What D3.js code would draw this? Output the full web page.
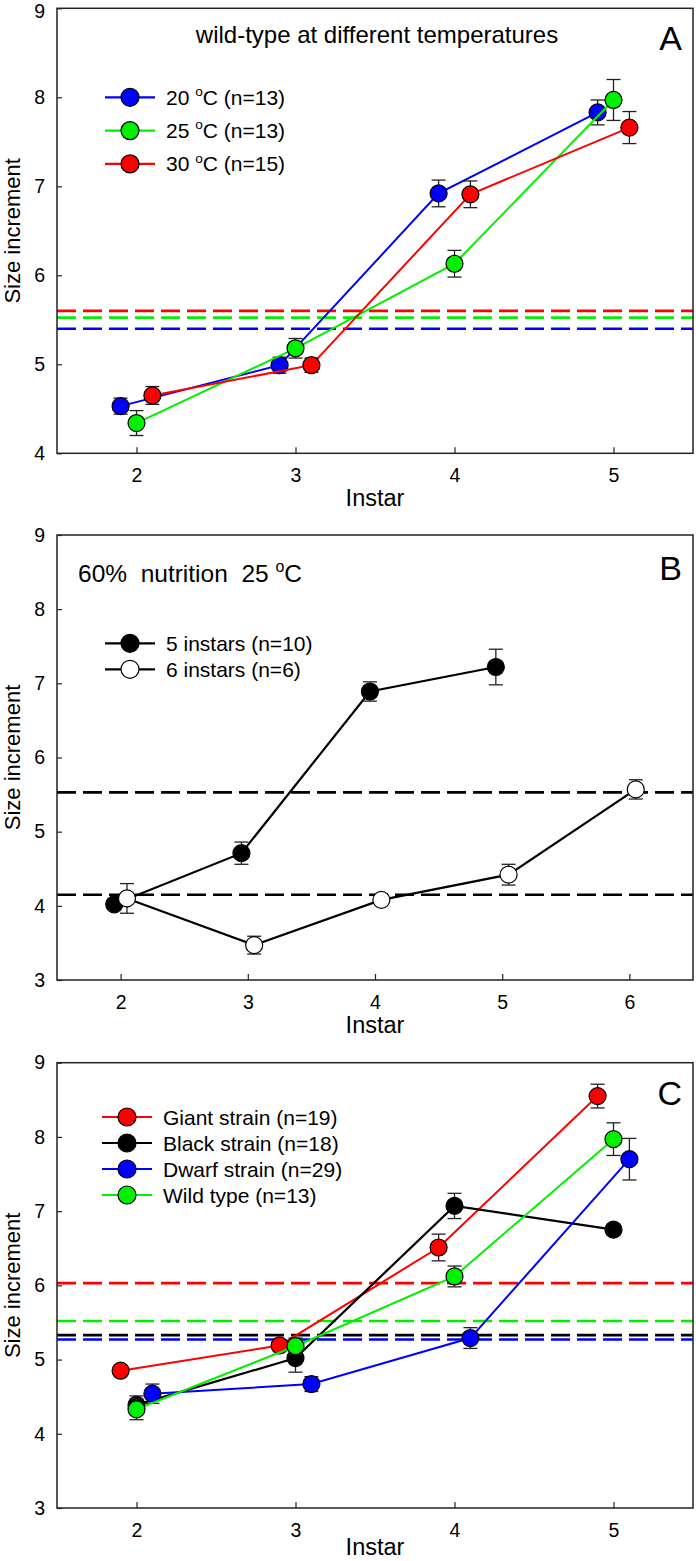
<!DOCTYPE html>
<html><head><meta charset="utf-8">
<script src="https://cdn.jsdelivr.net/npm/d3@7"></script>
<style>
body{margin:0;background:#fff}
text{font-family:"Liberation Sans", Arial, sans-serif;fill:#000}
</style>
</head><body>
<svg id="chart" width="696" height="1561"></svg>
<script>
// ---------- Panel A data ----------
const aXTicks = [2, 3, 4, 5];
const aYTicks = [4, 5, 6, 7, 8, 9];
const a20X = [1.9, 2.9, 3.9, 4.9];
const a20Y = [4.53, 4.99, 6.92, 7.83];
const a20E = [0.09, 0.09, 0.15, 0.14];
const a25X = [2.0, 3.0, 4.0, 5.0];
const a25Y = [4.34, 5.18, 6.13, 7.97];
const a25E = [0.14, 0.11, 0.15, 0.23];
const a30X = [2.1, 3.1, 4.1, 5.1];
const a30Y = [4.65, 4.99, 6.91, 7.66];
const a30E = [0.10, 0.08, 0.15, 0.18];
const aRefs = [5.40, 5.525, 5.60];
const aLegend = ["20", "25", "30"];
const aLegendN = ["(n=13)", "(n=13)", "(n=15)"];

// ---------- Panel B data ----------
const bXTicks = [2, 3, 4, 5, 6];
const bYTicks = [3, 4, 5, 6, 7, 8, 9];
const b5X = [1.95, 2.95, 3.96, 4.95];
const b5Y = [4.02, 4.71, 6.89, 7.22];
const b5E = [0.07, 0.15, 0.13, 0.24];
const b6X = [2.05, 3.05, 4.05, 5.05, 6.05];
const b6Y = [4.10, 3.47, 4.08, 4.42, 5.57];
const b6E = [0.20, 0.12, 0.05, 0.14, 0.13];
const bRefs = [5.53, 4.15];
const bLegend = ["5 instars (n=10)", "6 instars (n=6)"];

// ---------- Panel C data ----------
const cXTicks = [2, 3, 4, 5];
const cYTicks = [3, 4, 5, 6, 7, 8, 9];
const cGiantX = [1.9, 2.9, 3.9, 4.9];
const cGiantY = [4.85, 5.19, 6.51, 8.55];
const cGiantE = [0.06, 0.07, 0.18, 0.16];
const cBlackX = [2.0, 3.0, 4.0, 5.0];
const cBlackY = [4.39, 5.02, 7.07, 6.75];
const cBlackE = [0.12, 0.19, 0.17, 0.07];
const cDwarfX = [2.1, 3.1, 4.1, 5.1];
const cDwarfY = [4.54, 4.67, 5.29, 7.70];
const cDwarfE = [0.13, 0.10, 0.14, 0.28];
const cWildX = [2.0, 3.0, 4.0, 5.0];
const cWildY = [4.33, 5.18, 6.12, 7.97];
const cWildE = [0.14, 0.11, 0.14, 0.22];
const cRefs = [6.03, 5.33, 5.27, 5.52];
const cLegend = ["Giant strain (n=19)", "Black strain (n=18)", "Dwarf strain (n=29)", "Wild type (n=13)"];

const RED = "#ff0000", GREEN = "#00f000", BLUE = "#0000ff", BLACK = "#000000";
const svg = d3.select("#chart");
const L = 57, R = 693, H = 1561;

function series(xs, ys, es, line, fill) {
  return {pts: xs.map((x, i) => ({x, y: ys[i], e: es[i]})), line, fill};
}

function drawPanel(cfg) {
  const g = svg.append("g");
  const x = d3.scaleLinear().domain(cfg.xDomain).range([L, R]);
  const y = d3.scaleLinear().domain(cfg.yDomain).range([cfg.bottom, cfg.top]);

  // reference dashed lines
  cfg.refs.forEach(r => {
    g.append("line").attr("x1", L).attr("x2", R)
      .attr("y1", y(r.v)).attr("y2", y(r.v))
      .attr("stroke", r.color).attr("stroke-width", 2.6)
      .attr("stroke-dasharray", "19,7");
  });

  const lineGen = d3.line().x(d => x(d.x)).y(d => y(d.y));
  cfg.series.forEach(s => {
    g.append("path").attr("d", lineGen(s.pts)).attr("fill", "none")
      .attr("stroke", s.line).attr("stroke-width", s.line === BLACK ? 2.2 : 2);
    s.pts.forEach(p => {
      const eg = g.append("g").attr("stroke", "#222").attr("stroke-width", 1.3);
      eg.append("line").attr("x1", x(p.x)).attr("x2", x(p.x)).attr("y1", y(p.y - p.e)).attr("y2", y(p.y + p.e));
      eg.append("line").attr("x1", x(p.x) - 7).attr("x2", x(p.x) + 7).attr("y1", y(p.y - p.e)).attr("y2", y(p.y - p.e));
      eg.append("line").attr("x1", x(p.x) - 7).attr("x2", x(p.x) + 7).attr("y1", y(p.y + p.e)).attr("y2", y(p.y + p.e));
    });
    s.pts.forEach(p => {
      g.append("circle").attr("cx", x(p.x)).attr("cy", y(p.y)).attr("r", 8.5)
        .attr("fill", s.fill).attr("stroke", "#000").attr("stroke-width", 1.2);
    });
  });

  // axes
  const xa = g.append("g").attr("transform", `translate(0,${cfg.bottom})`)
    .call(d3.axisBottom(x).tickValues(cfg.xTicks).tickFormat(d3.format("d"))
      .tickSizeInner(-6).tickSizeOuter(0).tickPadding(15));
  const ya = g.append("g").attr("transform", `translate(${L},0)`)
    .call(d3.axisLeft(y).tickValues(cfg.yTicks).tickFormat(d3.format("d"))
      .tickSizeInner(-5).tickSizeOuter(0).tickPadding(12));
  [xa, ya].forEach(a => {
    a.select(".domain").remove();
    a.selectAll(".tick line").attr("stroke", "#222").attr("stroke-width", 1.2);
    a.selectAll(".tick text").attr("font-size", 19.5).attr("font-family", '"Liberation Sans", Arial, sans-serif').attr("fill", "#000");
  });
  // keep the topmost y label inside the page
  ya.selectAll(".tick text").filter(d => d === cfg.yDomain[1] && cfg.top < 12).attr("dy", "0.45em");

  g.append("rect").attr("x", L).attr("y", cfg.top).attr("width", R - L).attr("height", cfg.bottom - cfg.top)
    .attr("fill", "none").attr("stroke", "#222").attr("stroke-width", 1.5);

  g.append("text").attr("x", (L + R) / 2).attr("y", Math.min(cfg.bottom + 53, H - 6))
    .attr("text-anchor", "middle").attr("font-size", 23.5).text("Instar");
  g.append("text").attr("transform", `translate(20,${(cfg.top + cfg.bottom) / 2}) rotate(-90)`)
    .attr("text-anchor", "middle").attr("font-size", 22).text("Size increment");
  g.append("text").attr("x", 682).attr("y", cfg.letterY).attr("text-anchor", "end")
    .attr("font-size", 34).text(cfg.letter);

  // legend
  cfg.legend.forEach((it, i) => {
    const ly = cfg.legY0 + i * cfg.legDy;
    g.append("line").attr("x1", cfg.legX - 25).attr("x2", cfg.legX + 25).attr("y1", ly).attr("y2", ly)
      .attr("stroke", it.line).attr("stroke-width", 2.2);
    g.append("circle").attr("cx", cfg.legX).attr("cy", ly).attr("r", 9)
      .attr("fill", it.fill).attr("stroke", "#000").attr("stroke-width", 1.2);
    const t = g.append("text").attr("x", cfg.legX + 36).attr("y", ly + 7.5).attr("font-size", 21);
    it.label(t);
  });
  return g;
}

function degLabel(t, pre, post, fs) {
  t.append("tspan").text(pre + "\u00a0");
  t.append("tspan").attr("font-size", fs * 0.65).attr("dy", -fs * 0.42).text("o");
  t.append("tspan").attr("dy", fs * 0.42).text(post);
}

// Panel A
drawPanel({
  top: 8.3, bottom: 453.3, xDomain: [1.5, 5.5], yDomain: [4, 9], xTicks: aXTicks, yTicks: aYTicks,
  refs: [{v: aRefs[0], color: BLUE}, {v: aRefs[1], color: GREEN}, {v: aRefs[2], color: RED}],
  series: [series(a20X, a20Y, a20E, BLUE, BLUE), series(a25X, a25Y, a25E, GREEN, GREEN), series(a30X, a30Y, a30E, RED, RED)],
  letter: "A", letterY: 50,
  legX: 130, legY0: 97.3, legDy: 33.3,
  legend: [BLUE, GREEN, RED].map((c, i) => ({line: c, fill: c, label: t => degLabel(t, aLegend[i], "C " + aLegendN[i], 21)}))
});
svg.append("text").attr("x", 377).attr("y", 43).attr("text-anchor", "middle").attr("font-size", 24)
  .text("wild-type at different temperatures");

// Panel B
drawPanel({
  top: 535, bottom: 980, xDomain: [1.5, 6.5], yDomain: [3, 9], xTicks: bXTicks, yTicks: bYTicks,
  refs: [{v: bRefs[0], color: BLACK}, {v: bRefs[1], color: BLACK}],
  series: [series(b5X, b5Y, b5E, BLACK, BLACK), series(b6X, b6Y, b6E, BLACK, "#fff")],
  letter: "B", letterY: 580,
  legX: 130, legY0: 643.3, legDy: 26,
  legend: [{line: BLACK, fill: BLACK, label: t => t.text(bLegend[0])}, {line: BLACK, fill: "#fff", label: t => t.text(bLegend[1])}]
});
{
  const t = svg.append("text").attr("x", 78).attr("y", 582).attr("font-size", 24.5).style("white-space", "pre");
  degLabel(t, "60%  nutrition  25", "C", 24.5);
}

// Panel C
drawPanel({
  top: 1062.7, bottom: 1508, xDomain: [1.5, 5.5], yDomain: [3, 9], xTicks: cXTicks, yTicks: cYTicks,
  refs: [{v: cRefs[0], color: RED}, {v: cRefs[3], color: GREEN}, {v: cRefs[1], color: BLACK}, {v: cRefs[2], color: BLUE}],
  series: [series(cGiantX, cGiantY, cGiantE, RED, RED), series(cBlackX, cBlackY, cBlackE, BLACK, BLACK),
           series(cDwarfX, cDwarfY, cDwarfE, BLUE, BLUE), series(cWildX, cWildY, cWildE, GREEN, GREEN)],
  letter: "C", letterY: 1105,
  legX: 127, legY0: 1117, legDy: 26,
  legend: [RED, BLACK, BLUE, GREEN].map((c, i) => ({line: c, fill: c, label: t => t.text(cLegend[i])}))
});
</script>
</body></html>
